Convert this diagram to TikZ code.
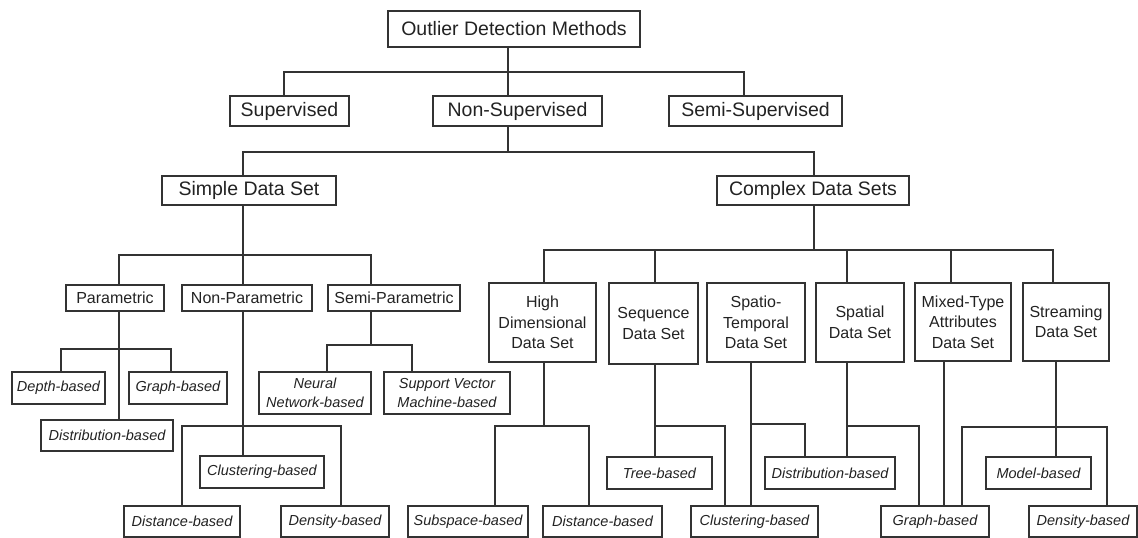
\documentclass[tikz,border=0pt]{standalone}
\usepackage{fontspec}
\setmainfont{Liberation Sans}
\usepackage{tikz}
\usetikzlibrary{calc}
\definecolor{LineGray}{HTML}{333333}
\definecolor{InkGray}{HTML}{222222}
\newcommand{\headfont}{\fontsize{19.5}{22}\selectfont}
\newcommand{\setfont}{\fontsize{16}{20.5}\selectfont}
\newcommand{\leaffont}{\fontsize{14.5}{19}\selectfont\itshape}
\tikzset{
  box/.style={draw=LineGray, line width=1.3pt, inner sep=0pt, text=InkGray, align=center},
  headbox/.style={box, font=\headfont},
  setbox/.style={box, font=\setfont},
  leafbox/.style={box, font=\leaffont},
  wh/.style 2 args={minimum width=#1, minimum height=#2},
  link/.style={draw=LineGray, line width=1.3pt}
}

\begin{document}
\begin{tikzpicture}[x=1pt,y=-1pt]
  \useasboundingbox (0,0) rectangle (1138,538);

  %% top levels
  \node[headbox, wh={252pt}{36pt}] (root) at (514,29) {Outlier Detection Methods};
  \node[headbox, wh={119pt}{30pt}] (sup) at (289.5,111) {Supervised};
  \node[headbox, wh={169pt}{30pt}] (nonsup) at (517.5,111) {Non-Supervised};
  \node[headbox, wh={173pt}{30pt}] (semisup) at (755.5,111) {Semi-Supervised};
  \node[headbox, wh={174pt}{29pt}] (simple) at (249,190.5) {Simple Data Set};
  \node[headbox, wh={192pt}{29pt}] (complex) at (813,190.5) {Complex Data Sets};

  %% simple data set
  \node[setbox, wh={98pt}{26pt}] (param) at (115,298) {Parametric};
  \node[setbox, wh={130pt}{26pt}] (nonparam) at (247,298) {Non-Parametric};
  \node[setbox, wh={132pt}{26pt}] (semiparam) at (394,298) {Semi-Parametric};
  \node[leafbox, wh={93pt}{32pt}] (depth) at (58.5,388) {Depth-based};
  \node[leafbox, wh={98pt}{32pt}] (graph1) at (178,388) {Graph-based};
  \node[leafbox, wh={132pt}{31pt}] (distr1) at (107,435.5) {Distribution-based};
  \node[leafbox, wh={112pt}{42pt}] (neural) at (315,393) {Neural\\Network-based};
  \node[leafbox, wh={126pt}{42pt}] (svm) at (447,393) {Support Vector\\Machine-based};
  \node[leafbox, wh={124pt}{32pt}] (clust1) at (262,472) {Clustering-based};
  \node[leafbox, wh={116pt}{31pt}] (dist1) at (182,521.5) {Distance-based};
  \node[leafbox, wh={108pt}{31pt}] (dens1) at (335,521.5) {Density-based};

  %% complex data sets
  \node[setbox, wh={107pt}{79pt}] (highdim) at (542.5,322.5) {High\\Dimensional\\Data Set};
  \node[setbox, wh={89pt}{81pt}] (seq) at (653.5,323.5) {Sequence\\Data Set};
  \node[setbox, wh={98pt}{79pt}] (spatemp) at (756,322.5) {Spatio-\\Temporal\\Data Set};
  \node[setbox, wh={88pt}{79pt}] (spatial) at (860,322.5) {Spatial\\Data Set};
  \node[setbox, wh={96pt}{78pt}] (mixed) at (963,322) {Mixed-Type\\Attributes\\Data Set};
  \node[setbox, wh={86pt}{78pt}] (stream) at (1066,322) {Streaming\\Data Set};
  \node[leafbox, wh={120pt}{31pt}] (subsp) at (468,521.5) {Subspace-based};
  \node[leafbox, wh={119pt}{31pt}] (dist2) at (602.5,521.5) {Distance-based};
  \node[leafbox, wh={105pt}{32pt}] (tree) at (659.5,473) {Tree-based};
  \node[leafbox, wh={127pt}{31pt}] (clust2) at (754.5,521.5) {Clustering-based};
  \node[leafbox, wh={130pt}{32pt}] (distr2) at (830,473) {Distribution-based};
  \node[leafbox, wh={108pt}{31pt}] (graph2) at (935,521.5) {Graph-based};
  \node[leafbox, wh={105pt}{32pt}] (model) at (1038.5,473) {Model-based};
  \node[leafbox, wh={108pt}{31pt}] (dens2) at (1083,521.5) {Density-based};

  %% bus points
  \coordinate (t0) at (508,72);  \coordinate (t1) at (284,72);  \coordinate (t2) at (744,72);
  \coordinate (u0) at (508,152); \coordinate (u1) at (243,152); \coordinate (u2) at (814,152);
  \coordinate (v0) at (243,255); \coordinate (v1) at (119,255); \coordinate (v2) at (371,255);
  \coordinate (w0) at (814,250); \coordinate (w1) at (544,250); \coordinate (w2) at (655,250);
  \coordinate (w3) at (847,250); \coordinate (w4) at (951,250); \coordinate (w5) at (1053,250);
  \coordinate (p1) at (61,349);  \coordinate (p2) at (171,349);
  \coordinate (n1) at (182,426); \coordinate (n2) at (341,426);
  \coordinate (s1) at (327,345); \coordinate (s2) at (412,345);
  \coordinate (h1) at (495,426); \coordinate (h2) at (589,426);
  \coordinate (q1) at (725,426);
  \coordinate (r0) at (751,424); \coordinate (r1) at (805,424);
  \coordinate (a1) at (919,426);
  \coordinate (m0) at (944,426);
  \coordinate (z0) at (1056,427); \coordinate (z1) at (962,427); \coordinate (z2) at (1107,427);

  %% links
  \draw[link] (root.south -| t0) -- (nonsup.north -| t0);
  \draw[link] (sup.north -| t1) |- (t2) -- (semisup.north -| t2);
  \draw[link] (nonsup.south -| u0) -- (u0);
  \draw[link] (simple.north -| u1) |- (u2) -- (complex.north -| u2);

  \draw[link] (simple.south -| v0) -- (nonparam.north -| v0);
  \draw[link] (param.north -| v1) |- (v2) -- (semiparam.north -| v2);
  \draw[link] (param.south -| v1) -- (distr1.north -| v1);
  \draw[link] (depth.north -| p1) |- (p2) -- (graph1.north -| p2);
  \draw[link] (nonparam.south -| v0) -- (clust1.north -| v0);
  \draw[link] (dist1.north -| n1) |- (n2) -- (dens1.north -| n2);
  \draw[link] (semiparam.south -| v2) -- (v2 |- s1);
  \draw[link] (neural.north -| s1) |- (s2) -- (svm.north -| s2);

  \draw[link] (complex.south -| w0) -- (w0);
  \draw[link] (highdim.north -| w1) |- (w5) -- (stream.north -| w5);
  \draw[link] (w2) -- (seq.north -| w2);
  \draw[link] (w3) -- (spatial.north -| w3);
  \draw[link] (w4) -- (mixed.north -| w4);
  \draw[link] (highdim.south -| w1) -- (w1 |- h1);
  \draw[link] (subsp.north -| h1) |- (h2) -- (dist2.north -| h2);
  \draw[link] (seq.south -| w2) -- (tree.north -| w2);
  \draw[link] (w2 |- q1) -- (q1) -- (clust2.north -| q1);
  \draw[link] (spatemp.south -| r0) -- (clust2.north -| r0);
  \draw[link] (r0) -- (r1) -- (distr2.north -| r1);
  \draw[link] (spatial.south -| w3) -- (distr2.north -| w3);
  \draw[link] (w3 |- a1) -- (a1) -- (graph2.north -| a1);
  \draw[link] (mixed.south -| m0) -- (graph2.north -| m0);
  \draw[link] (stream.south -| z0) -- (model.north -| z0);
  \draw[link] (graph2.north -| z1) |- (z2) -- (dens2.north -| z2);
\end{tikzpicture}
\end{document}
